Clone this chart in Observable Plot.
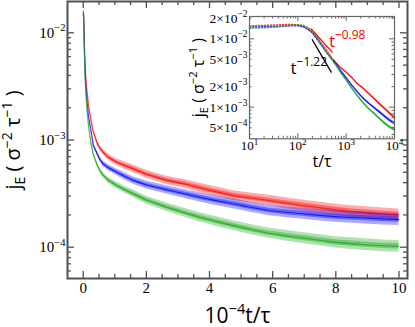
<!DOCTYPE html>
<html><head><meta charset="utf-8">
<script src="https://cdn.jsdelivr.net/npm/d3@7"></script>
<script src="https://cdn.jsdelivr.net/npm/@observablehq/plot@0.6"></script>
<style>
html,body{margin:0;padding:0;background:#fff;}
#chart{position:relative;width:415px;height:327px;overflow:hidden;background:#fff;}
#chart svg{position:absolute;}
</style>
</head><body><div id="chart"></div>
<script>
// ---------- main panel data (x in units of 10^4 t/tau) ----------
const mainX = [0.001, 0.01, 0.02, 0.035, 0.05, 0.075, 0.12, 0.17, 0.25, 0.32, 0.45, 0.53, 0.63, 0.8, 1.06, 1.3, 1.58, 2.0, 2.64, 3.2, 3.69, 4.2, 4.75, 5.3, 5.88, 6.4, 6.94, 7.5, 7.99, 8.5, 9.05, 9.5, 10.0];
const mainRed = [0.0155, 0.016, 0.013, 0.0085, 0.0062, 0.0042, 0.0029, 0.0021, 0.00152, 0.0012, 0.00093, 0.00084, 0.00077, 0.00069, 0.00062, 0.00058, 0.00054, 0.00048, 0.00042, 0.00039, 0.000358, 0.00033, 0.000303, 0.000288, 0.000273, 0.000258, 0.000245, 0.000233, 0.000223, 0.000215, 0.000209, 0.000204, 0.0002];
const mainBlue = [0.0148, 0.015, 0.0128, 0.0075, 0.0052, 0.0034, 0.0023, 0.00166, 0.00122, 0.0009, 0.00074, 0.00066, 0.0006, 0.00055, 0.0005, 0.00046, 0.00042, 0.00038, 0.000343, 0.000315, 0.000292, 0.000272, 0.000254, 0.000236, 0.00022, 0.000212, 0.000205, 0.000198, 0.000193, 0.000189, 0.000186, 0.000183, 0.000181];
const mainGreen = [0.0145, 0.0155, 0.0125, 0.0068, 0.0045, 0.003, 0.0019, 0.00135, 0.00093, 0.00074, 0.00058, 0.00052, 0.00047, 0.00042, 0.000377, 0.000345, 0.000315, 0.000275, 0.000236, 0.00021, 0.00019, 0.000174, 0.000159, 0.000146, 0.000135, 0.000128, 0.000122, 0.000116, 0.000111, 0.000108, 0.000105, 0.000103, 0.000102];
// scatter half-width of the point cloud, in decades
const mainSpread = [0.004, 0.004, 0.004, 0.005, 0.006, 0.007, 0.009, 0.011, 0.014, 0.017, 0.021, 0.023, 0.025, 0.028, 0.031, 0.033, 0.035, 0.037, 0.039, 0.041, 0.043, 0.045, 0.046, 0.047, 0.048, 0.05, 0.051, 0.052, 0.053, 0.054, 0.055, 0.055, 0.055];

const mainXTicks = [0, 2, 4, 6, 8, 10];
const mainXTickLabels = ["0", "2", "4", "6", "8", "10"];
const mainXMinor = [0.5, 1, 1.5, 2.5, 3, 3.5, 4.5, 5, 5.5, 6.5, 7, 7.5, 8.5, 9, 9.5];
const mainYTicks = [1e-2, 1e-3, 1e-4];
const mainYTickLabels = ["10^{−2}", "10^{−3}", "10^{−4}"];
const mainYMinor = [6e-5, 7e-5, 8e-5, 9e-5, 2e-4, 3e-4, 4e-4, 5e-4, 6e-4, 7e-4, 8e-4, 9e-4, 2e-3, 3e-3, 4e-3, 5e-3, 6e-3, 7e-3, 8e-3, 9e-3];
const mainXTitle = "10^{−4}t/τ";
const mainYTitle = "j_{E} ( σ^{−2} τ^{−1} )";

// ---------- inset data (t/tau, log-log) ----------
const insetT = [10, 20, 40, 70, 100, 130, 160, 200, 250, 320, 400, 500, 560, 650, 750, 1000, 1300, 1700, 2200, 2800, 3700, 5000, 6500, 8000, 10000];
const insetRed = [0.0155, 0.0157, 0.016, 0.0162, 0.016, 0.0152, 0.014, 0.0125, 0.0105, 0.0084, 0.0067, 0.0053, 0.0048, 0.0043, 0.00385, 0.00325, 0.00273, 0.0022, 0.00192, 0.00163, 0.00136, 0.0011, 0.00093, 0.00081, 0.0007];
const insetBlue = [0.0148, 0.015, 0.0152, 0.0155, 0.0155, 0.015, 0.0138, 0.0122, 0.0098, 0.0077, 0.0062, 0.0051, 0.0047, 0.0041, 0.0035, 0.0027, 0.0021, 0.00168, 0.00137, 0.00117, 0.001, 0.00084, 0.00072, 0.00064, 0.00058];
const insetGreen = [0.0143, 0.0145, 0.015, 0.0158, 0.016, 0.0158, 0.0147, 0.013, 0.0105, 0.008, 0.0063, 0.005, 0.0045, 0.0039, 0.0033, 0.0025, 0.0019, 0.00148, 0.00118, 0.00098, 0.00082, 0.00067, 0.00057, 0.00051, 0.00047];
const insetSpread = [0, 0, 0, 0, 0, 0, 0, 0, 0, 0, 0, 0, 0, 0.004, 0.005, 0.007, 0.009, 0.011, 0.013, 0.015, 0.017, 0.02, 0.022, 0.024, 0.025];

const guideRedT = [189, 515];
const guideRedJ = [0.014, 0.0064];
const guideBlackT = [199, 491];
const guideBlackJ = [0.0097, 0.00325];
const annotT = [440, 70.7];
const annotJ = [0.00925, 0.00373];
const annotText = ["t^{−0.98}", "t^{−1.22}"];

const insetXTicks = [10, 100, 1000, 10000];
const insetXTickLabels = ["10^{1}", "10^{2}", "10^{3}", "10^{4}"];
const insetXMinor = [20, 30, 40, 50, 60, 70, 80, 90, 200, 300, 400, 500, 600, 700, 800, 900, 2000, 3000, 4000, 5000, 6000, 7000, 8000, 9000];
const insetYTicks = [2e-2, 1e-2, 5e-3, 2e-3, 1e-3, 5e-4];
const insetYTickLabels = ["2×10^{−2}", "1×10^{−2}", "5×10^{−3}", "2×10^{−3}", "1×10^{−3}", "5×10^{−4}"];
const insetYMajor = [1e-2, 1e-3];
const insetYMinor = [4e-4, 5e-4, 6e-4, 7e-4, 8e-4, 9e-4, 2e-3, 3e-3, 4e-3, 5e-3, 6e-3, 7e-3, 8e-3, 9e-3, 2e-2];
const insetXTitle = "t/τ";
const insetYTitle = "j_{E} ( σ^{−2} τ^{−1} )";

// ---------- styles ----------
const colors = {red: "#ff0000", blue: "#0000ff", green: "#12a512"};
const serif = "Liberation Serif";
const sans = "Open Sans";

function tickSet(xMaj, xMin, yMaj, yMin, fw, fh, maj, min, color, sw) {
  const o = {stroke: color, strokeWidth: sw};
  return [
    Plot.tickX(xMaj, {x: d => d, insetTop: fh - maj, ...o}),
    Plot.tickX(xMaj, {x: d => d, insetBottom: fh - maj, ...o}),
    Plot.tickX(xMin, {x: d => d, insetTop: fh - min, ...o}),
    Plot.tickX(xMin, {x: d => d, insetBottom: fh - min, ...o}),
    Plot.tickY(yMaj, {y: d => d, insetRight: fw - maj, ...o}),
    Plot.tickY(yMaj, {y: d => d, insetLeft: fw - maj, ...o}),
    Plot.tickY(yMin, {y: d => d, insetRight: fw - min, ...o}),
    Plot.tickY(yMin, {y: d => d, insetLeft: fw - min, ...o})
  ];
}

// ---------- main plot ----------
const W = 415, H = 327, mL = 67, mR = 8, mT = 1, mB = 49;
const mainSeries = [["red", mainRed], ["blue", mainBlue], ["green", mainGreen]];
const mainMarks = [];
for (const [name, vals] of mainSeries) {
  const rows = mainX.map((x, i) => ({x, v: vals[i], s: mainSpread[i]}));
  const c = colors[name];
  mainMarks.push(
    Plot.areaY(rows, {x: "x", y1: d => d.v / 10 ** d.s, y2: d => d.v * 10 ** d.s, fill: c, fillOpacity: 0.33}),
    Plot.areaY(rows, {x: "x", y1: d => d.v / 10 ** (0.45 * d.s), y2: d => d.v * 10 ** (0.45 * d.s), fill: c, fillOpacity: 0.4}),
    Plot.line(rows, {x: "x", y: "v", stroke: c, strokeWidth: 1.1, strokeOpacity: 0.75})
  );
}
const mainPlot = Plot.plot({
  width: W, height: H, marginLeft: mL, marginRight: mR, marginTop: mT, marginBottom: mB,
  style: {background: "transparent", color: "black", overflow: "visible"},
  x: {domain: [-0.497, 10.27], axis: null},
  y: {type: "log", domain: [5.105e-5, 0.01959], axis: null},
  marks: [
    ...mainMarks,
    ...tickSet(mainXTicks, mainXMinor, mainYTicks, mainYMinor, W - mL - mR, H - mT - mB, 7, 4, "#505050", 1.3),
    Plot.frame({stroke: "#505050", strokeWidth: 2}),
    Plot.text(mainXTicks, {x: d => d, text: (d, i) => mainXTickLabels[i], frameAnchor: "bottom", textAnchor: "middle", lineAnchor: "top", dy: 4, fontSize: 15, fontFamily: serif}),
    Plot.text(mainYTicks, {y: d => d, text: (d, i) => mainYTickLabels[i], frameAnchor: "left", textAnchor: "end", lineAnchor: "middle", dx: -2, fontSize: 15, fontFamily: serif}),
    Plot.text([mainXTitle], {text: d => d, frameAnchor: "bottom", textAnchor: "middle", lineAnchor: "middle", dy: 37.6, fontSize: 21, fontFamily: sans}),
    Plot.text([mainYTitle], {text: d => d, frameAnchor: "left", textAnchor: "middle", lineAnchor: "middle", rotate: -90, dx: -54, fontSize: 20, fontFamily: sans})
  ]
});

// ---------- inset plot ----------
const IW = 225, IH = 165, iL = 69, iR = 11, iT = 11, iB = 31.7;
const insetSeries = [["red", insetRed], ["blue", insetBlue], ["green", insetGreen]];
const insetMarks = [];
for (const [name, vals] of insetSeries) {
  const rows = insetT.map((t, i) => ({t, v: vals[i], s: insetSpread[i]}));
  const c = colors[name];
  const early = rows.filter(d => d.t <= 560);
  const late = rows.filter(d => d.t >= 560);
  insetMarks.push(
    Plot.line(early, {x: "t", y: "v", stroke: c, strokeWidth: 1.5, strokeDasharray: "1.2 1.8", strokeOpacity: 0.75}),
    Plot.areaY(late, {x: "t", y1: d => d.v / 10 ** d.s, y2: d => d.v * 10 ** d.s, fill: c, fillOpacity: 0.45}),
    Plot.line(late, {x: "t", y: "v", stroke: c, strokeWidth: 1.4, strokeOpacity: 0.85})
  );
}
const insetPlot = Plot.plot({
  width: IW, height: IH, marginLeft: iL, marginRight: iR, marginTop: iT, marginBottom: iB,
  style: {background: "transparent", color: "black", overflow: "visible"},
  x: {type: "log", domain: [10, 1e4], axis: null},
  y: {type: "log", domain: [3.45e-4, 0.0212], axis: null},
  marks: [
    ...insetMarks,
    Plot.line(guideRedT.map((t, i) => ({t, j: guideRedJ[i]})), {x: "t", y: "j", stroke: "#ff0000", strokeWidth: 1.3}),
    Plot.line(guideBlackT.map((t, i) => ({t, j: guideBlackJ[i]})), {x: "t", y: "j", stroke: "#000", strokeWidth: 1.3}),
    Plot.text([{t: annotT[0], j: annotJ[0], s: annotText[0]}], {x: "t", y: "j", text: "s", fill: "#ff0000", textAnchor: "start", lineAnchor: "middle", fontSize: 17, fontFamily: sans}),
    Plot.text([{t: annotT[1], j: annotJ[1], s: annotText[1]}], {x: "t", y: "j", text: "s", fill: "#000", textAnchor: "start", lineAnchor: "middle", fontSize: 17, fontFamily: sans}),
    ...tickSet(insetXTicks, insetXMinor, insetYMajor, insetYMinor, IW - iL - iR, IH - iT - iB, 5, 2.5, "#666", 1),
    Plot.frame({stroke: "#666", strokeWidth: 1.2}),
    Plot.text(insetXTicks, {x: d => d, text: (d, i) => insetXTickLabels[i], frameAnchor: "bottom", textAnchor: "middle", lineAnchor: "top", dy: 2, fontSize: 13, fontFamily: serif}),
    Plot.text(insetYTicks, {y: d => d, text: (d, i) => insetYTickLabels[i], frameAnchor: "left", textAnchor: "end", lineAnchor: "middle", dx: -2, fontSize: 13.5, fontFamily: serif}),
    Plot.text([insetXTitle], {text: d => d, frameAnchor: "bottom", textAnchor: "middle", lineAnchor: "middle", dy: 23, fontSize: 16, fontFamily: sans}),
    Plot.text([insetYTitle], {text: d => d, frameAnchor: "left", textAnchor: "middle", lineAnchor: "middle", rotate: -90, dx: -51, fontSize: 16, fontFamily: sans})
  ]
});

const chart = document.getElementById("chart");
mainPlot.style.left = "0px"; mainPlot.style.top = "0px";
insetPlot.style.left = "180px"; insetPlot.style.top = "5px";
chart.appendChild(mainPlot);
chart.appendChild(insetPlot);

// rich text: ^{..} superscript, _{..} subscript
function richify(svg) {
  svg.querySelectorAll("text").forEach(el => {
    const s = el.textContent;
    if (!/[\^_]\{/.test(s)) return;
    const fs = parseFloat(getComputedStyle(el).fontSize) || 12;
    const parts = [];
    const re = /([\^_])\{([^}]*)\}/g;
    let last = 0, m;
    while ((m = re.exec(s))) {
      if (m.index > last) parts.push({t: s.slice(last, m.index), k: 0});
      parts.push({t: m[2], k: m[1] === "^" ? 1 : -1});
      last = re.lastIndex;
    }
    if (last < s.length) parts.push({t: s.slice(last), k: 0});
    while (el.firstChild) el.removeChild(el.firstChild);
    let shift = 0;
    for (const p of parts) {
      const ts = document.createElementNS("http://www.w3.org/2000/svg", "tspan");
      const target = p.k === 1 ? -0.42 * fs : p.k === -1 ? 0.25 * fs : 0;
      const dy = target - shift;
      if (Math.abs(dy) > 1e-6) ts.setAttribute("dy", dy.toFixed(2));
      shift = target;
      if (p.k) ts.setAttribute("font-size", (0.7 * fs).toFixed(2));
      ts.textContent = p.t;
      el.appendChild(ts);
    }
  });
}
richify(mainPlot);
richify(insetPlot);
</script></body></html>
